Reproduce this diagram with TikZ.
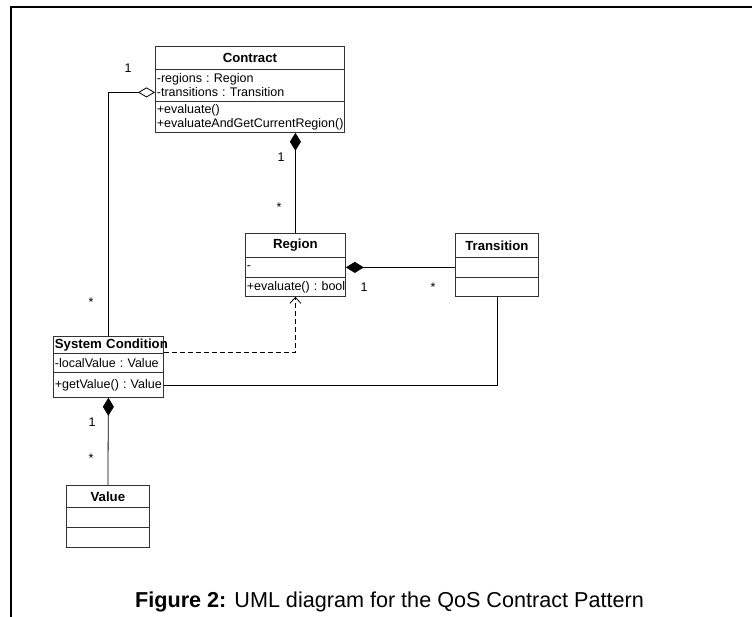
\documentclass[tikz,border=0pt]{standalone}
\usepackage{fontspec}
\setmainfont{Liberation Sans}
\usetikzlibrary{arrows.meta}
\begin{document}
\begin{tikzpicture}[x=1pt,y=-1pt,
  box/.style={draw=black!80, line width=0.8pt, rectangle, inner sep=0pt, anchor=north west,
    font=\frenchspacing\fontsize{12.5}{14}\selectfont},
  ttl/.style={box, font=\bfseries\fontsize{13.2}{14}\selectfont},
  cmp/.style={box, align=left, inner xsep=1.5pt},
  lbl/.style={font=\fontsize{12.5}{14}\selectfont, inner sep=0pt},
  conn/.style={line width=0.8pt, black},
  comp/.style={conn, {Diamond[length=18pt,width=11pt]}-},
  aggr/.style={conn, {Diamond[open,length=17pt,width=10pt,fill=white]}-},
  dep/.style={conn, dash pattern=on 5pt off 3pt, -{Straight Barb[length=6pt,width=11pt]}}
]
\useasboundingbox (0,0) rectangle (752,617);
\fill[white] (0,0) rectangle (752,617);
% frame
\draw[line width=2.5pt, line join=miter] (11,617) -- (11,7) -- (752,7);

% Contract
\node[ttl, minimum width=189pt, minimum height=23pt] (cT) at (155,46) {Contract};
\node[cmp, minimum width=189pt, minimum height=32pt, text width=186pt] (cA) at (155,69)
  {\baselineskip=16pt \mbox{-regions : Region}\\\mbox{-transitions : Transition}};
\node[cmp, minimum width=189pt, minimum height=31pt, text width=186pt] (cO) at (155,101)
  {\baselineskip=13pt \mbox{+evaluate()}\\\mbox{+evaluateAndGetCurrentRegion()}};

% Region
\node[ttl, minimum width=100pt, minimum height=24pt] (rT) at (245,233) {Region};
\node[cmp, minimum width=100pt, minimum height=20pt, text width=97pt] (rA) at (245,257) {-};
\node[cmp, minimum width=100pt, minimum height=19pt, text width=97pt] (rO) at (245,277) {\mbox{+evaluate() : bool}};

% Transition
\node[ttl, minimum width=83pt, minimum height=24pt] (tT) at (455,233) {Transition};
\node[box, minimum width=83pt, minimum height=20pt] (tA) at (455,257) {};
\node[box, minimum width=83pt, minimum height=19pt] (tO) at (455,277) {};

% System Condition
\node[ttl, minimum width=110pt, minimum height=17pt, align=left, text width=107pt, inner xsep=1.5pt] (sT) at (53,336) {\mbox{System Condition}};
\node[cmp, minimum width=110pt, minimum height=19pt, text width=107pt] (sA) at (53,353) {\mbox{-localValue : Value}};
\node[cmp, minimum width=110pt, minimum height=25pt, text width=107pt] (sO) at (53,372) {\mbox{+getValue() : Value}};

% Value
\node[ttl, minimum width=83pt, minimum height=22pt] (vT) at (66,485) {Value};
\node[box, minimum width=83pt, minimum height=20pt] (vA) at (66,507) {};
\node[box, minimum width=83pt, minimum height=20pt] (vO) at (66,527) {};

% connectors
\draw[aggr] ([yshift=-7pt]cA.west) -| (sT.north);
\draw[comp] (cO.south -| rT.north) -- (rT.north);
\draw[comp] (rA.east) -- (tA.west);
\draw[conn] (tO.south) |- (sO.east);
\draw[dep] ([yshift=1pt]sT.south east) -| (rO.south);
\draw[comp] (sO.south) -- (vT.north);

% multiplicities
\node[lbl] (m1) at (128,68) {1};
\node[lbl] (m2) at (91,302) {*};
\node[lbl] (m3) at (281,157) {1};
\node[lbl] (m4) at (279,207) {*};
\node[lbl] (m5) at (364,287) {1};
\node[lbl] (m6) at (433,287) {*};
\node[lbl] (m7) at (92,422) {1};
\node[lbl] (m8) at (91,458) {*};

% caption
\node[anchor=base, inner sep=0pt, font=\fontsize{21.6}{24}\selectfont] (cap) at (389.5,607)
  {\textbf{Figure 2:} UML diagram for the QoS Contract Pattern};
\end{tikzpicture}
\end{document}
